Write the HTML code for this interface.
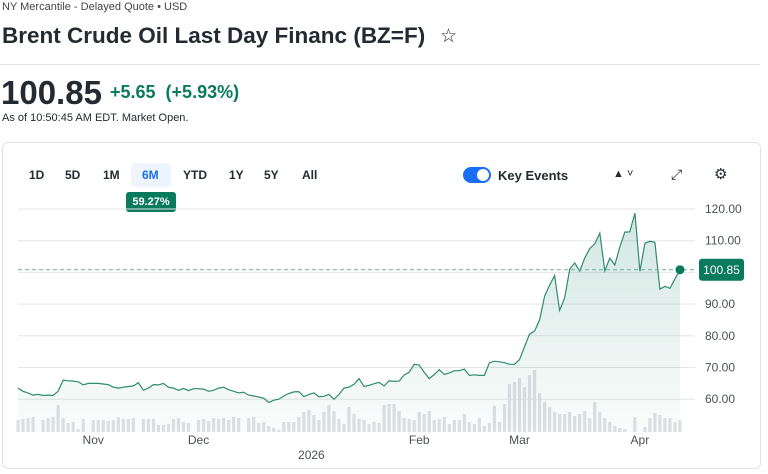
<!DOCTYPE html>
<html><head><meta charset="utf-8"><style>
body{margin:0;width:768px;height:474px;background:#fff;font-family:"Liberation Sans",sans-serif;color:#232a31;position:relative;overflow:hidden}
.abs{position:absolute;white-space:nowrap}
.rng{position:absolute;top:168px;font-size:12px;font-weight:bold;color:#232a31}
</style></head><body>
<div class="abs" style="left:2px;top:1px;font-size:11px;color:#444">NY Mercantile - Delayed Quote • USD</div>
<div class="abs" style="left:2px;top:23px;font-size:22.5px;font-weight:bold">Brent Crude Oil Last Day Financ (BZ=F)</div>
<div class="abs" style="left:440px;top:25px;font-size:19px">☆</div>
<div class="abs" style="left:0;top:64px;width:760px;height:1px;background:#e0e3e7"></div>
<div class="abs" style="left:1px;top:74px;font-size:33px;font-weight:bold">100.85</div>
<div class="abs" style="left:110px;top:82px;font-size:18px;font-weight:bold;color:#0a7a5c">+5.65 &nbsp;(+5.93%)</div>
<div class="abs" style="left:2px;top:112px;font-size:11px">As of 10:50:45 AM EDT. Market Open.</div>
<div class="abs" style="left:2px;top:142px;width:757px;height:325px;border:1px solid #e0e3e7;border-radius:6px"></div>
<div class="rng" style="left:29px">1D</div>
<div class="rng" style="left:65px">5D</div>
<div class="rng" style="left:103px">1M</div>
<div class="abs" style="left:131px;top:163px;width:40px;height:24px;background:#eef5ff;border-radius:4px"></div>
<div class="rng" style="left:142px;color:#1a6ef5">6M</div>
<div class="rng" style="left:183px">YTD</div>
<div class="rng" style="left:229px">1Y</div>
<div class="rng" style="left:264px">5Y</div>
<div class="rng" style="left:302px">All</div>
<div class="abs" style="left:126px;top:192px;width:50px;height:20px;background:#0a7a5c;border-radius:3px;color:#fff;font-size:11px;font-weight:bold;text-align:center;line-height:20px">59.27%</div>
<div class="abs" style="left:463px;top:167px;width:28px;height:16px;background:#1a6ef5;border-radius:8px"><div style="position:absolute;right:2px;top:2px;width:12px;height:12px;border-radius:6px;background:#fff"></div></div>
<div class="abs" style="left:498px;top:168px;font-size:13px;font-weight:bold">Key Events</div>
<div class="abs" style="left:613px;top:168px;font-size:11px">▲ ˅</div>
<div class="abs" style="left:671px;top:166px;font-size:14px">⤢</div>
<div class="abs" style="left:714px;top:165px;font-size:15px">⚙</div>
<svg id="c" class="abs" style="left:0;top:0" width="768" height="474"></svg>
<script>
const prices=[63.5,62.5,62,61.3,61.5,61.2,61.3,61.2,62.5,66,
65.8,65.7,65.5,64.5,65,65,65,64.8,64.6,63.8,
63.5,63.8,64,64.2,65.2,62.8,63.5,64.6,64.5,65,
63.8,63.5,62.8,63.4,62.7,63.3,63.3,63.2,62.5,62.8,
63.5,63.8,63,62.5,62,62.2,61.3,61,60.7,60.3,
59,59.7,60,61,61.8,62.3,62.4,60.8,61.5,62,
60.8,60.9,61.5,60,61.5,63.5,63.8,64.7,66.5,64,
64.4,64.9,65.3,64.2,65.8,65.6,65.7,67.7,68.5,71,
70.8,68.5,66.5,67.8,69.3,67.8,68.3,69,69,69.5,
67.5,67.7,67.5,67.5,71.5,72,71.8,71.5,71,
71,72.5,76.5,80.5,81.5,85,92.5,96,99,88,
92,101,103,100.4,104.5,107.5,109,112.4,100.5,104.5,
102.3,108,112.7,112.8,118.7,100.4,109.2,109.8,109.5,94.7,
95.6,95,98,100.85];
const volumes=[12,13,14,15,0,12,14,15,27,14,9,10,3,13,0,12,12,12,11,12,
15,13,13,14,0,13,13,13,7,7,8,13,14,10,9,0,12,13,11,14,
13,14,12,15,14,0,14,15,9,10,6,4,2,10,10,10,15,20,22,17,
12,20,27,21,13,8,25,18,13,12,8,10,9,27,28,28,21,14,13,12,
20,18,21,12,13,15,8,12,12,18,10,8,14,6,9,26,10,28,48,50,
54,45,57,62,39,30,25,20,18,18,20,16,18,21,14,30,20,14,10,6,
4,3,0,15,0,5,14,19,17,14,14,10,12];
const yTicks=[120,110,100,90,80,70,60];
const xLabels=[["Nov",15],["Dec",36],["Feb",80],["Mar",100],["Apr",124]];
const yearLabel=["2026",58.5];
const lastPrice=100.85;
const svg=document.getElementById('c');
const NS='http://www.w3.org/2000/svg';
const X=i=>18+i*(662/(prices.length-1));
const Y=v=>209+(120-v)*3.17;
const base=432;
function mk(t,a){const e=document.createElementNS(NS,t);for(const k in a)e.setAttribute(k,a[k]);svg.appendChild(e);return e;}
const defs=mk('defs',{});
defs.innerHTML='<linearGradient id="g" x1="0" y1="0" x2="0" y2="1"><stop offset="0" stop-color="#0a7a5c" stop-opacity="0.18"/><stop offset="1" stop-color="#0a7a5c" stop-opacity="0.02"/></linearGradient>';
yTicks.forEach(t=>{
 const l=mk('line',{x1:18,x2:695,y1:Y(t),y2:Y(t),stroke:'#e3e5e8','stroke-width':1});
 
 const tx=mk('text',{x:705,y:Y(t)+4,'font-size':12,fill:'#4b5058','font-family':'Liberation Sans, sans-serif'});
 tx.textContent=t.toFixed(2);
 
});
volumes.forEach((v,i)=>{if(!v)return;
 const r=mk('rect',{x:X(i)-1.6,y:base-v,width:3.2,height:v,fill:'#dfe1e4'});
 
});
let d='';prices.forEach((v,i)=>{d+=(i?'L':'M')+X(i).toFixed(1)+' '+Y(v).toFixed(1);});
const area=mk('path',{d:d+'L'+X(prices.length-1)+' '+base+'L'+X(0)+' '+base+'Z',fill:'url(#g)'});

const line=mk('path',{d:d,fill:'none',stroke:'#2e8b6e','stroke-width':1.2});

const dl=mk('line',{x1:18,x2:697,y1:Y(lastPrice),y2:Y(lastPrice),stroke:'#6fae98','stroke-width':1,'stroke-dasharray':'4,3'});

const dot=mk('circle',{cx:X(prices.length-1),cy:Y(prices[prices.length-1]),r:4.5,fill:'#0a7a5c'});

const bx=mk('rect',{x:699,y:Y(lastPrice)-11,width:45,height:22,rx:3,fill:'#0a7a5c'});

const bt=mk('text',{x:721.5,y:Y(lastPrice)+4.5,'font-size':12,fill:'#fff','text-anchor':'middle','font-family':'Liberation Sans, sans-serif'});
bt.textContent=lastPrice.toFixed(2);

xLabels.forEach(([s,i])=>{
 const t=mk('text',{x:X(i),y:444,'font-size':12,fill:'#4b5058','text-anchor':'middle','font-family':'Liberation Sans, sans-serif'});
 t.textContent=s;
});
const yr=mk('text',{x:X(yearLabel[1]),y:459,'font-size':12,fill:'#4b5058','text-anchor':'middle','font-family':'Liberation Sans, sans-serif'});
yr.textContent=yearLabel[0];

</script>
</body></html>
